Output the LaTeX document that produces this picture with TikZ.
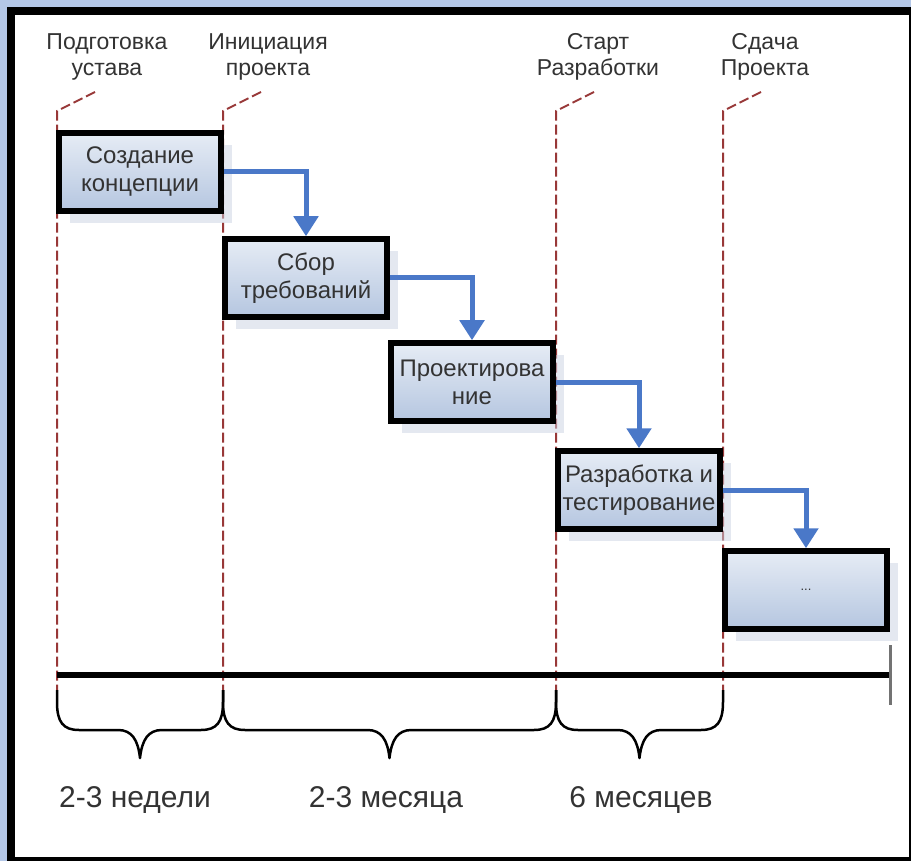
\documentclass[tikz,border=0pt]{standalone}
\usepackage{fontspec}
\setmainfont{Liberation Sans}
\usetikzlibrary{arrows.meta,shadows}
\definecolor{bgblue}{HTML}{B4C7E7}
\definecolor{boxtop}{HTML}{E6ECF5}
\definecolor{boxbot}{HTML}{B5C6E0}
\definecolor{arrowblue}{HTML}{4A78C8}
\definecolor{dashred}{HTML}{983838}
\definecolor{txt}{HTML}{333333}
\definecolor{shade}{HTML}{CBD3E3}
\newcommand\drawbrace[2]{%
  \draw[bracestyle] (#1,690) -- (#1,702) .. controls (#1,722) and ({#1+6},730) .. ({#1+22},730)
    -- ({(#1+#2)/2-22},730) .. controls ({(#1+#2)/2-8},730) and ({(#1+#2)/2-2},740) .. ({(#1+#2)/2},758)
    .. controls ({(#1+#2)/2+2},740) and ({(#1+#2)/2+8},730) .. ({(#1+#2)/2+22},730)
    -- ({#2-22},730) .. controls ({#2-6},730) and (#2,722) .. (#2,702) -- (#2,690);}
\begin{document}
\begin{tikzpicture}[x=1pt,y=-1pt,
  stagebox/.style={draw=black, line width=5.5pt, minimum width=162pt, minimum height=78pt,
    top color=boxtop, bottom color=boxbot, text=txt, align=center,
    font=\fontsize{24}{28}\selectfont, inner sep=2pt,
    drop shadow={shadow xshift=11pt, shadow yshift=-12pt, fill=shade, opacity=0.5}},
  toplabel/.style={align=center, text=txt, font=\fontsize{23}{26}\selectfont},
  bottomlabel/.style={text=txt, font=\fontsize{30}{34}\selectfont},
  dashline/.style={draw=dashred, line width=2pt, dash pattern=on 10pt off 4pt},
  flow/.style={draw=arrowblue, line width=5pt, -{Triangle[width=24pt,length=20pt]}},
  timeline/.style={draw=black, line width=6.5pt},
  tickline/.style={draw=black!55, line width=3pt},
  bracestyle/.style={draw=black, line width=2.5pt, line join=round}]
\useasboundingbox (0,0) rectangle (911,861);
% frame
\fill[bgblue] (0,0) rectangle (911,861);
\fill[black] (7,7) rectangle (911,861);
\fill[white] (15,15) rectangle (909,857);
% top labels
\node[toplabel] (p1) at (107,57) {Подготовка\\устава};
\node[toplabel] (p2) at (268,57) {Инициация\\проекта};
\node[toplabel] (p3) at (598,57) {Старт\\Разработки};
\node[toplabel] (p4) at (765,57) {Сдача\\Проекта};
% milestone dashed lines
\foreach \i/\x in {1/57,2/223,3/556,4/723}{
  \coordinate (h\i) at ({\x+38},92);
  \coordinate (k\i) at (\x,111);
  \coordinate (e\i) at (\x,690);
  \draw[dashline] (h\i) -- (k\i) -- (e\i);
}
% boxes
\node[stagebox] (b1) at (140,172) {Создание\\концепции};
\node[stagebox] (b2) at (306,278) {Сбор\\требований};
\node[stagebox] (b3) at (472,382) {Проектирова\\ние};
\node[stagebox] (b4) at (639,490) {Разработка и\\тестирование};
\node[stagebox, font=\fontsize{13}{15}\selectfont] (b5) at (806,590) {...};
% flow arrows
\draw[flow] (b1.east) -| (b2.north);
\draw[flow] (b2.east) -| (b3.north);
\draw[flow] (b3.east) -| (b4.north);
\draw[flow] (b4.east) -| (b5.north);
% timeline
\coordinate (t0) at (57,675);
\coordinate (t1) at (890,675);
\coordinate (u0) at (890,645);
\coordinate (u1) at (890,705);
\draw[timeline] (t0) -- (t1);
\draw[tickline] (u0) -- (u1);
% braces
\drawbrace{57}{223}
\drawbrace{223}{556}
\drawbrace{556}{723}
% durations
\node[bottomlabel] (d1) at (135,800) {2-3 недели};
\node[bottomlabel] (d2) at (386,800) {2-3 месяца};
\node[bottomlabel] (d3) at (641,800) {6 месяцев};
\end{tikzpicture}
\end{document}
